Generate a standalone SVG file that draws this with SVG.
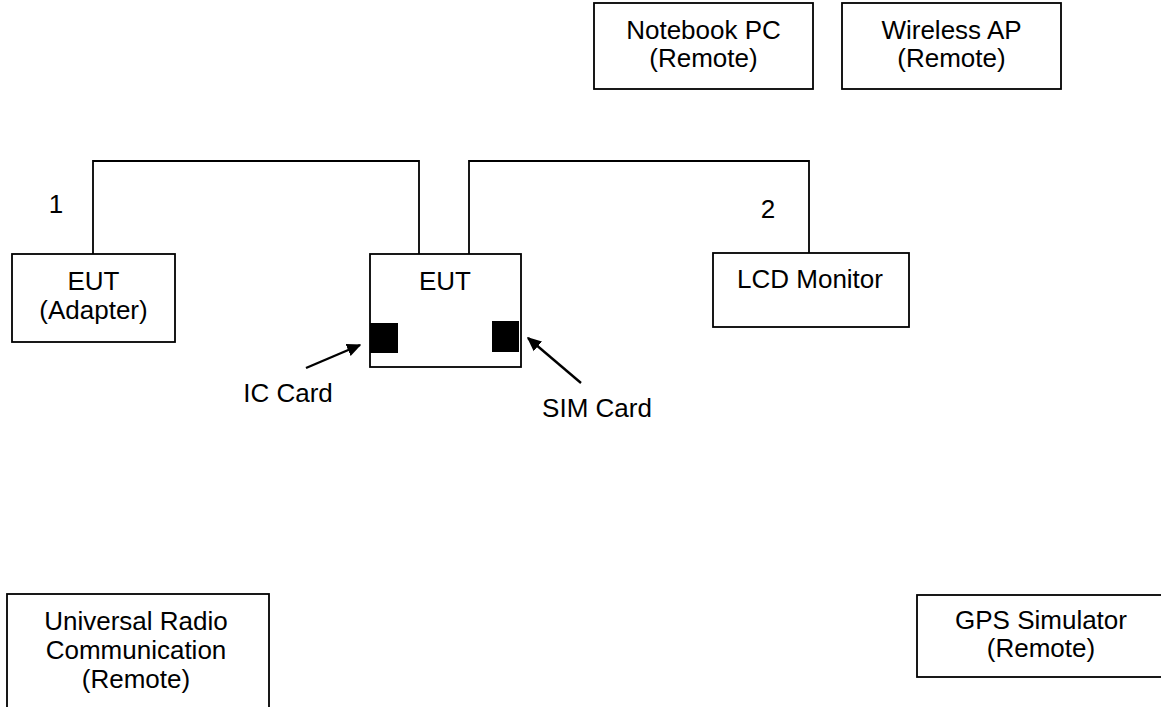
<svg xmlns="http://www.w3.org/2000/svg" width="1161" height="707" viewBox="0 0 1161 707">
  <style>
    .box { fill: #ffffff; stroke: #000000; stroke-width: 1.8; }
    .card { fill: #000000; stroke: none; }
    .wire { fill: none; stroke: #000000; stroke-width: 1.8; }
    .arrow { fill: none; stroke: #000000; stroke-width: 2.4; marker-end: url(#ah); }
    text { font-family: "Liberation Sans", Arial, sans-serif; font-size: 26px; fill: #000000; text-anchor: middle; }
  </style>
  <defs>
    <marker id="ah" viewBox="0 0 10 10" refX="9" refY="5" markerWidth="6" markerHeight="6" orient="auto" markerUnits="strokeWidth">
      <path d="M0,0.5 L10,5 L0,9.5 z" fill="#000000"/>
    </marker>
  </defs>
  <rect width="1161" height="707" fill="#ffffff"/>

  <g id="connectors">
    <path class="wire" d="M93 254 V161 H419 V254"/>
    <path class="wire" d="M469 254 V161 H809 V253"/>
    <line class="arrow" x1="306" y1="368" x2="360" y2="345"/>
    <line class="arrow" x1="581" y1="383" x2="528" y2="338"/>
    <text x="56" y="213">1</text>
    <text x="768" y="218">2</text>
  </g>

  <g id="notebook">
    <rect class="box" x="594" y="3" width="219" height="86"/>
    <text x="703.5" y="39">Notebook PC</text>
    <text x="703.5" y="67">(Remote)</text>
  </g>

  <g id="wireless-ap">
    <rect class="box" x="842" y="3" width="219" height="86"/>
    <text x="951.5" y="39">Wireless AP</text>
    <text x="951.5" y="67">(Remote)</text>
  </g>

  <g id="eut-adapter">
    <rect class="box" x="12" y="254" width="163" height="88"/>
    <text x="93.5" y="290">EUT</text>
    <text x="93.5" y="319">(Adapter)</text>
  </g>

  <g id="eut">
    <rect class="box" x="370" y="254" width="151" height="113"/>
    <text x="445" y="290">EUT</text>
    <rect class="card" x="370" y="323" width="28" height="30"/>
    <rect class="card" x="492" y="321" width="27" height="31"/>
  </g>

  <g id="ic-card-label">
    <text x="288" y="402">IC Card</text>
  </g>

  <g id="sim-card-label">
    <text x="597" y="417">SIM Card</text>
  </g>

  <g id="lcd-monitor">
    <rect class="box" x="713" y="253" width="196" height="74"/>
    <text x="810" y="288">LCD Monitor</text>
  </g>

  <g id="universal-radio">
    <rect class="box" x="7" y="594" width="262" height="130"/>
    <text x="136" y="630">Universal Radio</text>
    <text x="136" y="659">Communication</text>
    <text x="136" y="688">(Remote)</text>
  </g>

  <g id="gps-simulator">
    <rect class="box" x="917" y="595" width="248" height="82"/>
    <text x="1041" y="629">GPS Simulator</text>
    <text x="1041" y="657">(Remote)</text>
  </g>
</svg>
